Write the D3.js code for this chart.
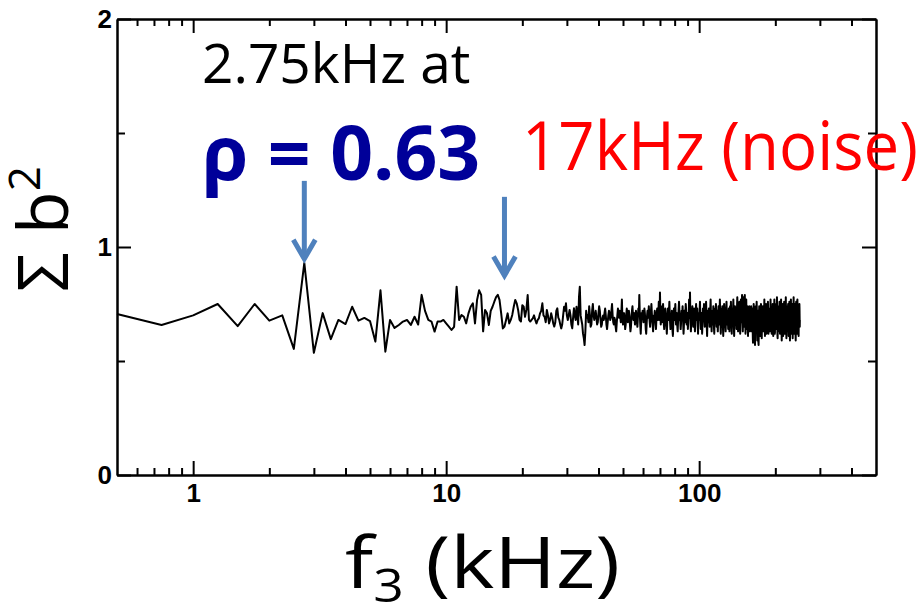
<!DOCTYPE html>
<html>
<head>
<meta charset="utf-8">
<script src="https://cdn.jsdelivr.net/npm/d3@7"></script>
<style>
  html, body { margin: 0; padding: 0; background: #fff; }
  svg { display: block; }
</style>
</head>
<body>
<svg id="chart" width="923" height="602"></svg>
<script>
// Spectrum of summed squared bicoherence vs. f3, bins every 0.25 kHz from 0.5 kHz.
const binWidth = 0.25;   // kHz
const firstBin = 0.5;    // kHz

// 0.5 – 10 kHz
const sumB2_0to10 = [
  0.706,0.658,0.70,0.75,0.653,0.75,0.677,0.70,0.553,0.93,
  0.536,0.71,0.596,0.68,0.662,0.738,0.677,0.689,0.675,0.585,
  0.81,0.541,0.68,0.645,0.658,0.673,0.68,0.658,0.694,0.66,
  0.79,0.72,0.68,0.673,0.629,0.673,0.673,0.68,0.665
];
// 10.25 – 50 kHz
const sumB2_10to50 = [
  0.651,0.636,0.65,0.826,0.68,0.702,0.694,0.665,0.709,0.738,
  0.753,0.665,0.768,0.81,0.79,0.63,0.724,0.709,0.658,0.72,
  0.738,0.76,0.78,0.79,0.768,0.709,0.643,0.651,0.68,0.709,
  0.665,0.68,0.702,0.738,0.768,0.753,0.724,0.68,0.673,0.745,
  0.738,0.694,0.724,0.789,0.68,0.673,0.68,0.687,0.70,0.68,
  0.665,0.68,0.687,0.709,0.72,0.753,0.70,0.694,0.67,0.724,
  0.70,0.665,0.68,0.709,0.69,0.665,0.651,0.67,0.72,0.731,
  0.69,0.68,0.66,0.643,0.66,0.70,0.738,0.72,0.753,0.70,
  0.68,0.70,0.724,0.70,0.66,0.643,0.69,0.731,0.70,0.68,
  0.738,0.70,0.66,0.78,0.826,0.70,0.68,0.66,0.62,0.60,
  0.57,0.63,0.72,0.69,0.70,0.67,0.74,0.70,0.65,0.66,
  0.72,0.75,0.70,0.68,
  0.70,0.72,0.69,0.66,0.67,0.71,0.74,0.72,0.68,0.65,
  0.66,0.69,0.70,0.68,0.71,0.73,0.70,0.66,0.64,0.67,
  0.70,0.72,0.71,0.68,0.69,0.72,0.75,0.70,0.67,0.66,
  0.69,0.68,0.65,0.63,0.67,0.70,0.73,0.71,0.69,0.72,
  0.70,0.67,0.71,0.77,0.68,0.66
];
// 50.25 – 100 kHz
const sumB2_50to100 = [
  0.69,0.71,0.68,0.64,0.66,0.70,0.73,0.71,0.67,0.69,
  0.72,0.70,0.66,0.63,0.65,0.69,0.72,0.74,0.70,0.68,
  0.71,0.69,0.66,0.68,0.72,0.70,0.67,0.65,0.69,0.73,
  0.70,0.79,0.71,0.66,0.62,0.67,0.71,0.69,0.72,0.70,
  0.67,0.70,0.73,0.71,0.68,0.64,0.62,0.66,0.70,0.72,
  0.69,0.71,0.74,0.70,0.67,0.65,0.68,0.72,0.75,0.71,
  0.68,0.66,0.63,0.67,0.70,0.69,0.72,0.70,0.66,0.64,
  0.68,0.71,0.73,0.70,0.68,0.71,0.76,0.72,0.68,0.80,
  0.71,0.66,0.74,0.70,0.67,0.69,0.72,0.75,0.71,0.66,
  0.64,0.68,0.70,0.73,0.69,0.67,0.65,0.62,0.66,0.71,
  0.73,0.70,0.68,0.72,0.76,0.71,0.67,0.64,0.66,0.70,
  0.69,0.72,0.68,0.63,0.61,0.66,0.70,0.73,0.71,0.68,
  0.72,0.75,0.70,0.66,0.68,0.71,0.69,0.65,0.63,0.67,
  0.70,0.73,0.76,0.72,0.68,0.70,0.67,0.64,0.66,0.70,
  0.72,0.69,0.71,0.74,0.70,0.66,0.62,0.65,0.69,0.72,
  0.70,0.67,0.71,0.75,0.73,0.69,0.66,0.68,0.71,0.68,
  0.64,0.67,0.70,0.72,0.77,0.73,0.69,0.80,0.71,0.66,
  0.63,0.67,0.70,0.69,0.72,0.74,0.70,0.67,0.65,0.68,
  0.71,0.73,0.70,0.66,0.63,0.66,0.70,0.72,0.75,0.71,
  0.68,0.70,0.73,0.69,0.65,0.62,0.67,0.71,0.70,0.68
];
// 100.25 – 250 kHz
const sumB2_100to250 = [
  0.70,0.73,0.76,0.71,0.67,0.64,0.68,0.71,0.69,0.66,
  0.62,0.66,0.70,0.73,0.71,0.69,0.72,0.75,0.70,0.67,
  0.65,0.68,0.71,0.69,0.73,0.76,0.72,0.68,0.64,0.61,
  0.66,0.70,0.72,0.70,0.67,0.69,0.73,0.71,0.68,0.65,
  0.67,0.71,0.74,0.77,0.72,0.68,0.66,0.63,0.67,0.70,
  0.72,0.69,0.66,0.70,0.74,0.71,0.68,0.64,0.62,0.67,
  0.71,0.73,0.70,0.68,0.72,0.75,0.71,0.67,0.65,0.69,
  0.72,0.70,0.66,0.63,0.67,0.71,0.74,0.72,0.69,0.66,
  0.68,0.72,0.77,0.73,0.69,0.65,0.62,0.66,0.70,0.73,
  0.71,0.68,0.70,0.74,0.70,0.66,0.64,0.61,0.65,0.69,
  0.72,0.75,0.72,0.68,0.70,0.73,0.69,0.65,0.63,0.67,
  0.71,0.74,0.76,0.72,0.68,0.66,0.69,0.72,0.70,0.67,
  0.64,0.68,0.71,0.73,0.70,0.67,0.63,0.66,0.70,0.74,
  0.72,0.69,0.71,0.76,0.72,0.68,0.65,0.62,0.66,0.70,
  0.73,0.71,0.68,0.70,0.74,0.77,0.72,0.67,0.64,0.61,
  0.65,0.69,0.72,0.74,0.71,0.68,0.66,0.69,0.73,0.70,
  0.67,0.64,0.68,0.72,0.75,0.78,0.73,0.69,0.66,0.63,
  0.67,0.71,0.74,0.72,0.69,0.72,0.76,0.73,0.68,0.65,
  0.62,0.66,0.70,0.73,0.77,0.74,0.70,0.67,0.71,0.75,
  0.79,0.74,0.70,0.66,0.63,0.67,0.71,0.76,0.78,0.73,
  0.69,0.65,0.68,0.72,0.75,0.79,0.74,0.70,0.66,0.62,
  0.66,0.71,0.75,0.77,0.72,0.68,0.64,0.67,0.71,0.74,
  0.72,0.68,0.65,0.61,0.66,0.70,0.73,0.71,0.68,0.70,
  0.74,0.71,0.67,0.63,0.66,0.70,0.72,0.69,0.66,0.68,
  0.71,0.74,0.70,0.66,0.63,0.67,0.71,0.73,0.70,0.67,
  0.64,0.60,0.58,0.63,0.68,0.72,0.75,0.71,0.68,0.70,
  0.73,0.69,0.65,0.61,0.57,0.62,0.67,0.71,0.74,0.72,
  0.69,0.66,0.70,0.73,0.76,0.72,0.67,0.63,0.59,0.64,
  0.69,0.72,0.70,0.67,0.63,0.58,0.57,0.62,0.67,0.71,
  0.74,0.71,0.68,0.70,0.73,0.69,0.65,0.61,0.64,0.68,
  0.72,0.75,0.72,0.69,0.66,0.62,0.60,0.65,0.70,0.73,
  0.71,0.68,0.71,0.74,0.70,0.66,0.63,0.67,0.71,0.69,
  0.66,0.70,0.73,0.77,0.72,0.68,0.64,0.61,0.66,0.70,
  0.72,0.69,0.67,0.71,0.75,0.72,0.68,0.64,0.62,0.66,
  0.70,0.73,0.71,0.68,0.65,0.69,0.72,0.76,0.72,0.68,
  0.65,0.62,0.66,0.70,0.73,0.70,0.67,0.69,0.72,0.70,
  0.66,0.63,0.67,0.71,0.74,0.77,0.72,0.68,0.65,0.69,
  0.72,0.70,0.66,0.62,0.65,0.69,0.73,0.71,0.68,0.71,
  0.75,0.72,0.68,0.64,0.61,0.65,0.70,0.73,0.70,0.67,
  0.70,0.74,0.77,0.72,0.68,0.65,0.62,0.66,0.71,0.73,
  0.70,0.67,0.64,0.68,0.72,0.75,0.71,0.68,0.66,0.70,
  0.74,0.78,0.73,0.69,0.65,0.61,0.60,0.65,0.69,0.72,
  0.70,0.67,0.71,0.74,0.71,0.67,0.63,0.66,0.70,0.73,
  0.76,0.72,0.68,0.65,0.62,0.66,0.70,0.72,0.69,0.66,
  0.69,0.73,0.77,0.73,0.69,0.66,0.62,0.59,0.64,0.69,
  0.72,0.70,0.68,0.71,0.75,0.72,0.68,0.64,0.61,0.66,
  0.70,0.74,0.71,0.68,0.70,0.73,0.76,0.72,0.68,0.65,
  0.62,0.66,0.71,0.73,0.70,0.67,0.64,0.68,0.72,0.78,
  0.74,0.70,0.66,0.63,0.60,0.65,0.69,0.72,0.70,0.67,
  0.70,0.74,0.71,0.67,0.63,0.66,0.70,0.73,0.75,0.71,
  0.68,0.64,0.61,0.65,0.70,0.72,0.69,0.72,0.76,0.73,
  0.69,0.66,0.62,0.59,0.64,0.69,0.73,0.71,0.68,0.70,
  0.74,0.77,0.73,0.69,0.65,0.62,0.66,0.70,0.72,0.70,
  0.67,0.71,0.75,0.72,0.68,0.64,0.60,0.65,0.69,0.73,
  0.71,0.68,0.70,0.74,0.78,0.73,0.69,0.65,0.62,0.66,
  0.70,0.72,0.69,0.66,0.63,0.67,0.71,0.75,0.72,0.68,
  0.65,0.61,0.59,0.64,0.69,0.73,0.76,0.72,0.68,0.70,
  0.73,0.70,0.66,0.62,0.66,0.70,0.74,0.77,0.73,0.69,
  0.66,0.63,0.67,0.71,0.73,0.70,0.67,0.64,0.61,0.66,
  0.70,0.74,0.72,0.68,0.71,0.75,0.73,0.69,0.65,0.68
];

// Axis ticks
const xMajorTicks = [1, 10, 100];
const xMinorTicks = [0.6, 0.7, 0.8, 0.9, 2, 3, 4, 5, 6, 7, 8, 9,
                     20, 30, 40, 50, 60, 70, 80, 90, 200, 300, 400];
const yMajorTicks = [0, 1, 2];
const yMinorTicks = [0.5, 1.5];

// Marked frequencies (kHz) with arrow start / tip heights
const markers = [
  { f: 2.75, from: 1.29, to: 0.935 },
  { f: 17,   from: 1.22, to: 0.862 }
];

const sumB2 = [].concat(sumB2_0to10, sumB2_10to50, sumB2_50to100, sumB2_100to250);
const series = sumB2.map((v, i) => ({ f: firstBin + binWidth * i, v }));

const svg = d3.select("#chart");
const plot = { left: 117, right: 876, top: 19, bottom: 475 };

const x = d3.scaleLog().domain([0.5, 500]).range([plot.left, plot.right]);
const y = d3.scaleLinear().domain([0, 2]).range([plot.bottom, plot.top]);

const tickFont = "'Liberation Sans', Arial, Helvetica, sans-serif";

function styleAxis(g) {
  g.attr("font-size", 26).attr("font-family", tickFont);
  g.selectAll("path.domain").attr("stroke", "#000").attr("stroke-width", 2);
  g.selectAll(".tick line").attr("stroke", "#000").attr("stroke-width", 2);
  g.selectAll("text")
    .attr("fill", "#000")
    .style("font-family", tickFont)
    .style("font-weight", "bold")
    .style("font-size", "26px");
}

// bottom
svg.append("g").attr("transform", `translate(0,${plot.bottom})`)
  .call(d3.axisBottom(x).tickValues(xMinorTicks).tickSize(-7).tickSizeOuter(0).tickFormat(""))
  .call(styleAxis);
svg.append("g").attr("transform", `translate(0,${plot.bottom})`)
  .call(d3.axisBottom(x).tickValues(xMajorTicks).tickSize(-14).tickSizeOuter(0)
        .tickPadding(9).tickFormat(d3.format("d")))
  .call(styleAxis);
// top
svg.append("g").attr("transform", `translate(0,${plot.top})`)
  .call(d3.axisTop(x).tickValues(xMinorTicks).tickSize(-7).tickSizeOuter(0).tickFormat(""))
  .call(styleAxis);
svg.append("g").attr("transform", `translate(0,${plot.top})`)
  .call(d3.axisTop(x).tickValues(xMajorTicks).tickSize(-14).tickSizeOuter(0).tickFormat(""))
  .call(styleAxis);
// left
svg.append("g").attr("transform", `translate(${plot.left},0)`)
  .call(d3.axisLeft(y).tickValues(yMinorTicks).tickSize(-8).tickSizeOuter(0).tickFormat(""))
  .call(styleAxis);
svg.append("g").attr("transform", `translate(${plot.left},0)`)
  .call(d3.axisLeft(y).tickValues(yMajorTicks).tickSize(-14).tickSizeOuter(0)
        .tickPadding(5).tickFormat(d3.format("d")))
  .call(styleAxis);
// right
svg.append("g").attr("transform", `translate(${plot.right},0)`)
  .call(d3.axisRight(y).tickValues(yMinorTicks).tickSize(-8).tickSizeOuter(0).tickFormat(""))
  .call(styleAxis);
svg.append("g").attr("transform", `translate(${plot.right},0)`)
  .call(d3.axisRight(y).tickValues(yMajorTicks).tickSize(-14).tickSizeOuter(0).tickFormat(""))
  .call(styleAxis);

// trace
const line = d3.line().x(d => x(d.f)).y(d => y(d.v));
svg.append("path")
  .datum(series)
  .attr("d", line)
  .attr("fill", "none")
  .attr("stroke", "#000")
  .attr("stroke-width", 2)
  .attr("stroke-linejoin", "round");

// arrows
const arrowColor = "#4F81BD";
markers.forEach(m => {
  const ax = x(m.f), y0 = y(m.from), y1 = y(m.to) - 3;
  svg.append("line")
    .attr("x1", ax).attr("x2", ax).attr("y1", y0).attr("y2", y1)
    .attr("stroke", arrowColor).attr("stroke-width", 5);
  svg.append("path")
    .attr("d", `M${ax - 11},${y1 - 19}L${ax},${y1}L${ax + 11},${y1 - 19}`)
    .attr("fill", "none").attr("stroke", arrowColor).attr("stroke-width", 5)
    .attr("stroke-linejoin", "miter");
});

// annotations
const annFont = "'Open Sans', 'Noto Sans', sans-serif";
svg.append("text")
  .attr("x", 202).attr("y", 83)
  .style("font-family", annFont).style("font-size", "55px").attr("fill", "#000")
  .text("2.75kHz at");
svg.append("text")
  .attr("x", 202).attr("y", 180)
  .style("font-family", annFont).style("font-size", "75px").style("font-weight", "bold")
  .attr("fill", "#000099")
  .text("ρ = 0.63");
svg.append("text")
  .attr("x", 522).attr("y", 170)
  .attr("textLength", 396).attr("lengthAdjust", "spacingAndGlyphs")
  .style("font-family", annFont).style("font-size", "67px").attr("fill", "#FF0000")
  .text("17kHz (noise)");

// axis titles
const xt = svg.append("text")
  .attr("x", 345).attr("y", 588)
  .attr("textLength", 275).attr("lengthAdjust", "spacingAndGlyphs")
  .style("font-family", annFont).style("font-size", "72px").attr("fill", "#000");
xt.append("tspan").text("f");
xt.append("tspan").attr("dy", 14).style("font-size", "46px").text("3");
xt.append("tspan").attr("dy", -14).text(" (kHz)");

const yt = svg.append("text")
  .attr("transform", "translate(68,292) rotate(-90)")
  .style("font-family", annFont).style("font-size", "70px").attr("fill", "#000");
yt.append("tspan").text("Σ b");
yt.append("tspan").attr("dy", -28).style("font-size", "44px").text("2");
</script>
</body>
</html>
